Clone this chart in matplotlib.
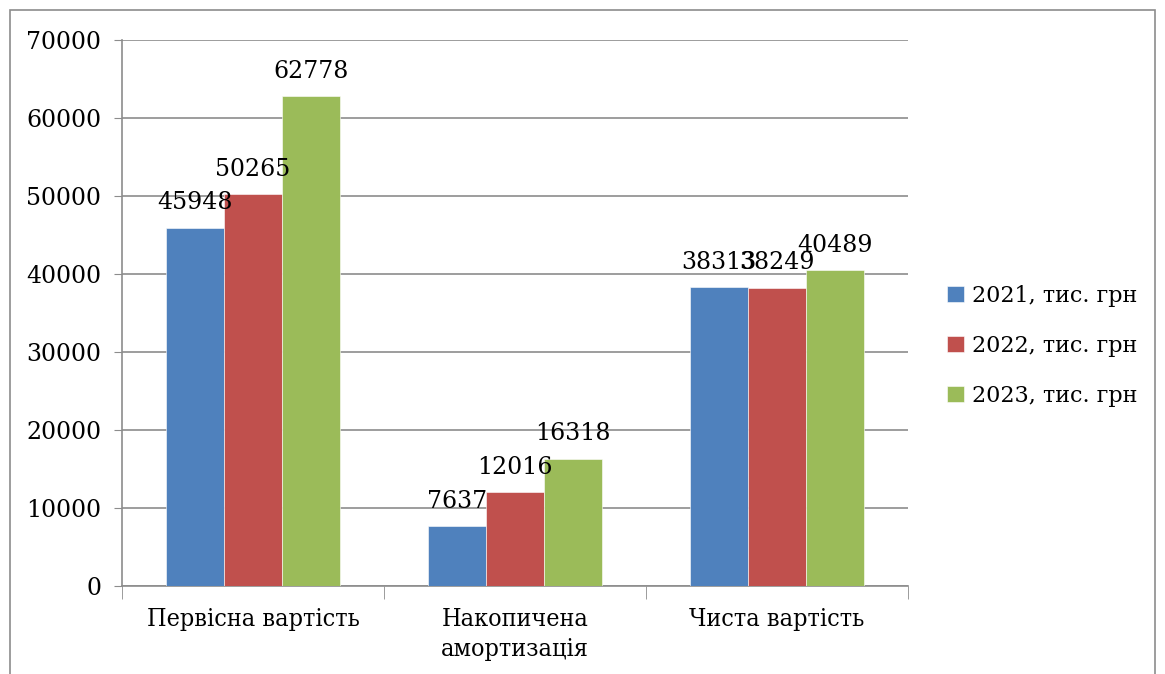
import matplotlib.pyplot as plt
import numpy as np
from matplotlib.patches import Rectangle

categories = ['Первісна вартість', 'Накопичена\nамортизація', 'Чиста вартість']
series = ['2021, тис. грн', '2022, тис. грн', '2023, тис. грн']
v2021 = [45948, 7637, 38313]
v2022 = [50265, 12016, 38249]
v2023 = [62778, 16318, 40489]
colors = ['#4F81BD', '#C0504D', '#9BBB59']

plt.rcParams['font.family'] = ['DejaVu Serif']

fig = plt.figure(figsize=(11.65, 6.74), dpi=100)
ax = fig.add_axes([122 / 1165, 1 - 586 / 674, (908 - 122) / 1165, (586 - 40) / 674])

# outer frame like the Excel chart area
fig.patches.append(Rectangle((10 / 1165, -0.05), (1155 - 10) / 1165, 1.05 - 10 / 674,
                             transform=fig.transFigure, fill=False,
                             edgecolor='#8c8c8c', linewidth=1.2))

x = np.arange(len(categories))
w = 0.222
for i, (vals, name) in enumerate(zip([v2021, v2022, v2023], series)):
    pos = x + (i - 1) * w
    ax.bar(pos, vals, w, color=colors[i], label=name,
           edgecolor='white', linewidth=0.4, zorder=3)
    for p, v in zip(pos, vals):
        ax.text(p, v + 1700, str(v), ha='center', va='bottom', fontsize=17, zorder=4)

ax.set_xlim(-0.5, 2.5)
ax.set_ylim(0, 70000)
ax.set_yticks(range(0, 70001, 10000))
ax.tick_params(axis='y', labelsize=17, length=6, color='#8c8c8c', pad=9)
ax.yaxis.grid(True, color='#8c8c8c', linewidth=1.2, zorder=0)
ax.set_xticks(x)
ax.set_xticklabels(categories, fontsize=18, linespacing=1.35, fontstretch='condensed')
ax.tick_params(axis='x', length=0, pad=16)
ax.set_xticks([-0.5, 0.5, 1.5, 2.5], minor=True)
ax.tick_params(axis='x', which='minor', length=9, color='#8c8c8c')
for s in ['top', 'right']:
    ax.spines[s].set_visible(False)
for s in ['left', 'bottom']:
    ax.spines[s].set_color('#8c8c8c')
    ax.spines[s].set_linewidth(1.2)

ax.legend(loc='center left', bbox_to_anchor=(1.024, 0.44), frameon=False,
          fontsize=16, handlelength=0.75, handleheight=0.75, handletextpad=0.4,
          labelspacing=1.25)

fig.savefig('out.png', dpi=100)
